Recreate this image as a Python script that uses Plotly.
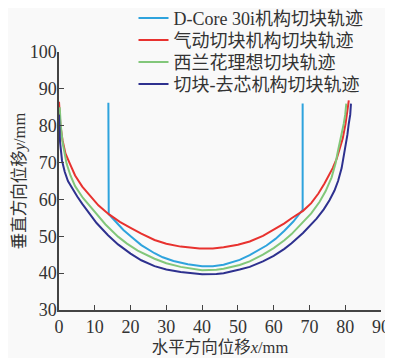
import plotly.graph_objects as go

# D-Core 30i 机构切块轨迹
dcore_x = [13.8, 13.8, 13.9, 16.0, 18.0, 20.2, 23.0, 26.7, 29.0, 32.0, 36.0, 40.0, 43.0, 46.0, 50.5, 53.3,
           56.0, 58.0, 60.5, 63.0, 65.5, 68.1, 68.1]
dcore_y = [86.2, 60.0, 56.0, 53.8, 51.7, 49.9, 47.6, 45.4, 44.3, 43.3, 42.4, 41.9, 41.9, 42.3, 43.6, 44.9,
           46.3, 47.5, 49.3, 51.5, 54.0, 57.2, 86.0]

# 气动切块机构切块轨迹
pneu_x = [0.0, 0.4, 1.0, 1.8, 3.0, 4.5, 6.5, 8.6, 11.0, 13.9, 17.0, 20.0, 23.0, 26.7, 30.0, 34.0, 39.3,
          43.0, 46.0, 50.0, 53.3, 57.0, 60.0, 63.0, 65.0, 68.2, 70.5, 72.5, 74.2, 76.5, 77.6, 78.4, 79.3,
          80.1, 80.5, 80.8, 81.0]
pneu_y = [86.5, 80.0, 76.0, 72.5, 69.8, 66.5, 63.5, 61.2, 58.4, 56.0, 53.9, 52.3, 50.7, 49.0, 48.0, 47.2,
          46.7, 46.7, 47.0, 47.7, 48.6, 50.1, 51.7, 53.5, 54.9, 56.9, 59.0, 61.6, 64.3, 68.5, 71.0, 73.4,
          76.5, 80.6, 83.0, 85.0, 86.9]

# 西兰花理想切块轨迹
ideal_x = [0.2, 0.5, 1.0, 2.1, 3.2, 4.5, 6.7, 8.5, 10.0, 13.0, 16.5, 19.0, 22.0, 26.7, 30.0, 34.0, 40.0,
           44.0, 46.0, 50.5, 53.3, 57.0, 60.0, 63.0, 65.0, 68.2, 70.5, 72.8, 74.5, 76.2, 77.3, 77.9, 78.8,
           79.6, 80.0, 80.3]
ideal_y = [85.0, 80.0, 75.5, 69.8, 66.5, 63.6, 60.4, 58.3, 56.6, 53.2, 49.9, 48.0, 46.1, 43.9, 42.7, 41.7,
           40.8, 40.9, 41.2, 42.2, 43.2, 45.0, 46.8, 48.9, 50.6, 53.7, 56.2, 59.3, 62.2, 66.0, 69.8, 72.8,
           76.5, 80.6, 83.0, 86.0]

# 切块-去芯机构切块轨迹
core_x = [0.0, 0.05, 0.3, 0.85, 1.6, 2.5, 4.2, 5.1, 6.5, 8.0, 10.5, 13.7, 16.5, 20.0, 23.0, 26.7, 30.0,
          34.0, 40.0, 44.0, 46.0, 50.5, 53.3, 57.0, 60.0, 63.0, 65.0, 68.2, 70.5, 72.0, 74.0, 75.6, 77.0,
          78.0, 79.0, 79.8, 80.6, 81.0, 81.4, 81.6]
core_y = [83.0, 80.0, 75.5, 70.5, 67.5, 65.0, 62.0, 60.8, 58.8, 56.9, 53.6, 50.3, 47.8, 45.3, 43.5, 41.9,
          41.0, 40.3, 39.7, 39.8, 40.0, 41.0, 41.7, 43.2, 44.7, 46.6, 48.1, 50.9, 53.1, 54.8, 57.3, 59.8,
          62.4, 65.0, 68.5, 72.8, 77.5, 80.6, 83.0, 86.0]

names = ["D-Core 30i机构切块轨迹", "气动切块机构切块轨迹", "西兰花理想切块轨迹", "切块-去芯机构切块轨迹"]
colors = ["#2ea3dd", "#e8322f", "#82c77a", "#2e318f"]

x_ticks = [0, 10, 20, 30, 40, 50, 60, 70, 80, 90]
y_ticks = [30, 40, 50, 60, 70, 80, 90, 100]

FONT = "Liberation Serif, Times New Roman, Noto Sans CJK SC, serif"

legend_ids = ["legend", "legend2", "legend3", "legend4"]
legend_y = [1.1305, 1.0453, 0.9601, 0.8750]

fig = go.Figure()
for xs, ys, nm, col, lg in zip([dcore_x, pneu_x, ideal_x, core_x], [dcore_y, pneu_y, ideal_y, core_y],
                               names, colors, legend_ids):
    fig.add_trace(go.Scatter(x=xs, y=ys, mode="lines", name=nm, legend=lg,
                             line=dict(color=col, width=2, shape="linear")))

axis_common = dict(showgrid=False, zeroline=False, showline=True, linecolor="#444", linewidth=1.5,
                   ticks="inside", ticklen=5, tickwidth=1.2, tickcolor="#444", automargin=False,
                   tickfont=dict(family=FONT, size=18, color="#333"))

legends = {}
for lg, ly in zip(legend_ids, legend_y):
    legends[lg] = dict(x=0.2314, y=ly, xanchor="left", yanchor="middle",
                       bgcolor="rgba(0,0,0,0)", font=dict(family=FONT, size=18, color="#333"),
                       itemwidth=30)

fig.update_layout(
    width=393, height=358,
    margin=dict(l=51, r=19.6, t=44, b=56, autoexpand=False),
    paper_bgcolor="#f9f9f9", plot_bgcolor="#f9f9f9",
    font=dict(family=FONT, color="#333"),
    xaxis=dict(range=[0, 90], tickvals=x_ticks, **axis_common,
               title=dict(text="水平方向位移<i>x</i>/mm", font=dict(family=FONT, size=16.5), standoff=5)),
    yaxis=dict(range=[30, 100], tickvals=y_ticks, ticklabelstandoff=-3, **axis_common,
               title=dict(text="垂直方向位移<i>y</i>/mm", font=dict(family=FONT, size=16.5), standoff=0)),
    showlegend=True,
    **legends,
)

fig.write_html("out.html")
